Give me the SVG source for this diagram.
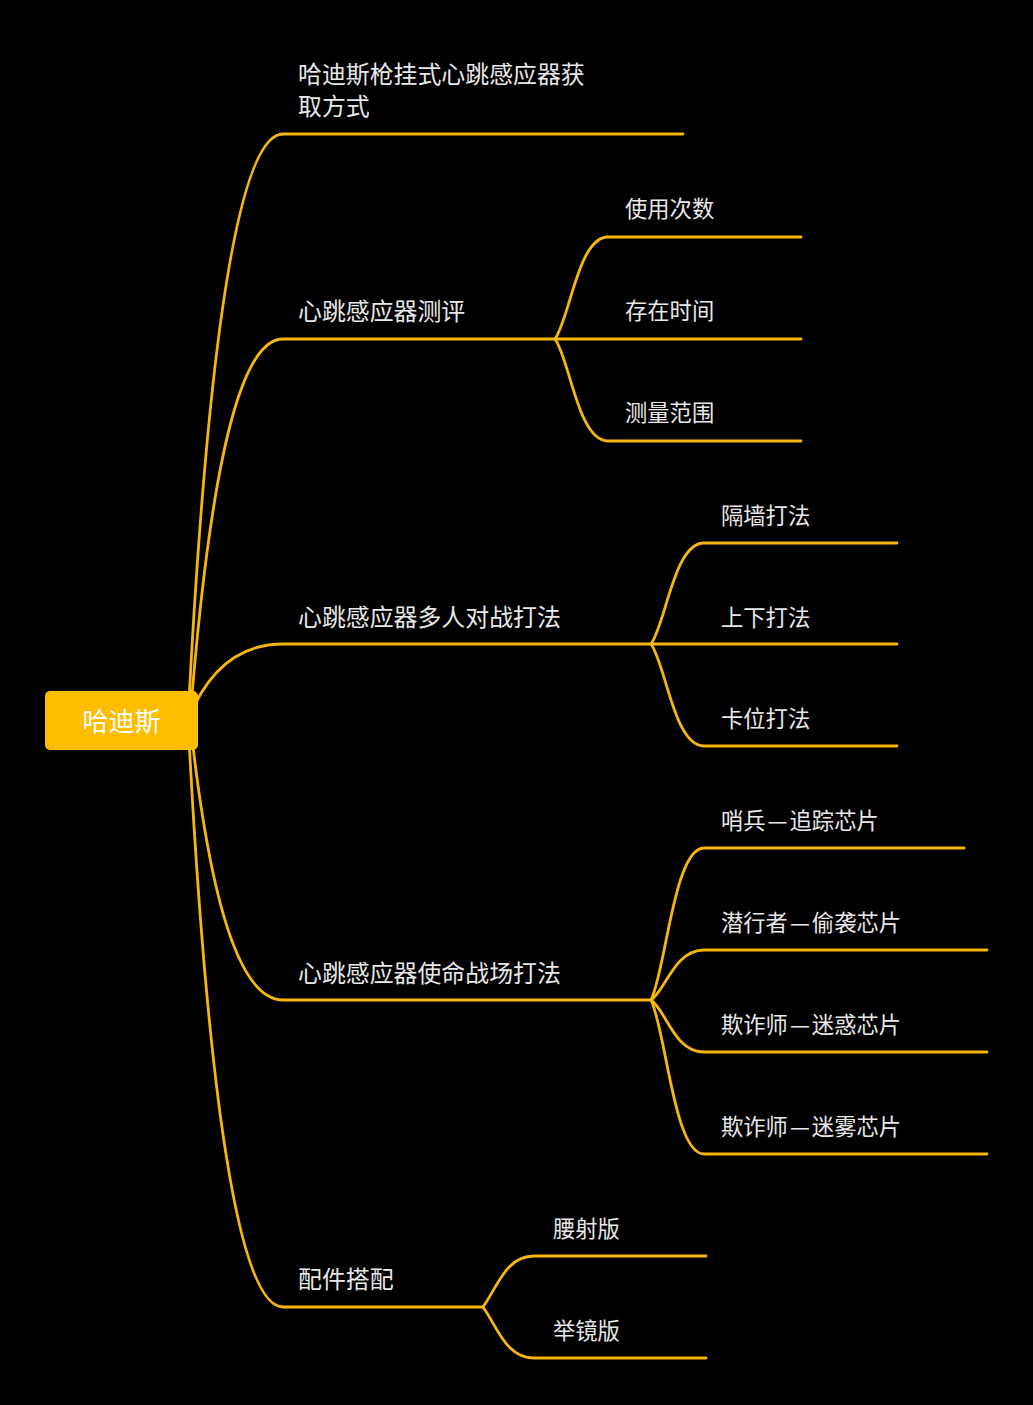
<svg xmlns="http://www.w3.org/2000/svg" width="1033" height="1405" viewBox="0 0 1033 1405">
<style>
.c{fill:none;stroke:#F5B70F;stroke-width:2.8;stroke-linecap:round}
.t1{font-family:"Noto Sans CJK SC","Noto Sans",sans-serif;font-size:23.9px;fill:#E8E8E8}
.t2{font-family:"Noto Sans CJK SC","Noto Sans",sans-serif;font-size:22.3px;fill:#E8E8E8}
.tr{font-family:"Noto Sans CJK SC","Noto Sans",sans-serif;font-size:26px;fill:#FFFFFF;text-anchor:middle}
</style>
<rect width="1033" height="1405" fill="#000000"/>
<g id="connectors">
<path class="c" d="M188,720 C212,248 250,134 283,134 L683,134"/>
<path class="c" d="M190,720 C214,412 250,339 283,339 L555,339"/>
<path class="c" d="M188,720 C212,659 250,644 283,644 L651,644"/>
<path class="c" d="M190,720 C214,944 250,1000 283,1000 L651,1000"/>
<path class="c" d="M188,720 C212,1190 250,1307 283,1307 L483,1307"/>
<path class="c" d="M555,339 C570,318 578,237 608,237 L801,237"/>
<path class="c" d="M555,339 L801,339"/>
<path class="c" d="M555,339 C570,360 578,441 608,441 L801,441"/>
<path class="c" d="M651,644 C666,623 674,543 704,543 L897,543"/>
<path class="c" d="M651,644 L897,644"/>
<path class="c" d="M651,644 C666,665 674,746 704,746 L897,746"/>
<path class="c" d="M651,1000 C666,969 674,848 704,848 L964,848"/>
<path class="c" d="M651,1000 C666,990 674,950 704,950 L987,950"/>
<path class="c" d="M651,1000 C666,1010 674,1052 704,1052 L987,1052"/>
<path class="c" d="M651,1000 C666,1031 674,1154 704,1154 L987,1154"/>
<path class="c" d="M483,1307 C498,1286 506,1256 534,1256 L706,1256"/>
<path class="c" d="M483,1307 C498,1328 506,1358 534,1358 L706,1358"/>
</g>
<g id="root">
<rect x="45" y="691" width="153" height="59" rx="5" fill="#FFBD00"/>
<text class="tr" x="121.5" y="731">哈迪斯</text>
</g>
<g id="n1"><text class="t1" x="298" y="83">哈迪斯枪挂式心跳感应器获</text><text class="t1" x="298" y="115">取方式</text></g>
<g id="n2"><text class="t1" x="298" y="320">心跳感应器测评</text></g>
<g id="n2a"><text class="t2" x="625" y="216.5">使用次数</text></g>
<g id="n2b"><text class="t2" x="625" y="318.5">存在时间</text></g>
<g id="n2c"><text class="t2" x="625" y="420.5">测量范围</text></g>
<g id="n3"><text class="t1" x="298" y="626">心跳感应器多人对战打法</text></g>
<g id="n3a"><text class="t2" x="721" y="523.5">隔墙打法</text></g>
<g id="n3b"><text class="t2" x="721" y="625.5">上下打法</text></g>
<g id="n3c"><text class="t2" x="721" y="726.5">卡位打法</text></g>
<g id="n4"><text class="t1" x="298" y="982">心跳感应器使命战场打法</text></g>
<g id="n4a"><text class="t2" x="721" y="828.5">哨兵<tspan dx="2">—</tspan><tspan dx="2">追踪芯片</tspan></text></g>
<g id="n4b"><text class="t2" x="721" y="930.5">潜行者<tspan dx="2">—</tspan><tspan dx="2">偷袭芯片</tspan></text></g>
<g id="n4c"><text class="t2" x="721" y="1032.5">欺诈师<tspan dx="2">—</tspan><tspan dx="2">迷惑芯片</tspan></text></g>
<g id="n4d"><text class="t2" x="721" y="1134.5">欺诈师<tspan dx="2">—</tspan><tspan dx="2">迷雾芯片</tspan></text></g>
<g id="n5"><text class="t1" x="298" y="1288">配件搭配</text></g>
<g id="n5a"><text class="t2" x="553" y="1236.5">腰射版</text></g>
<g id="n5b"><text class="t2" x="553" y="1338.5">举镜版</text></g>
</svg>
